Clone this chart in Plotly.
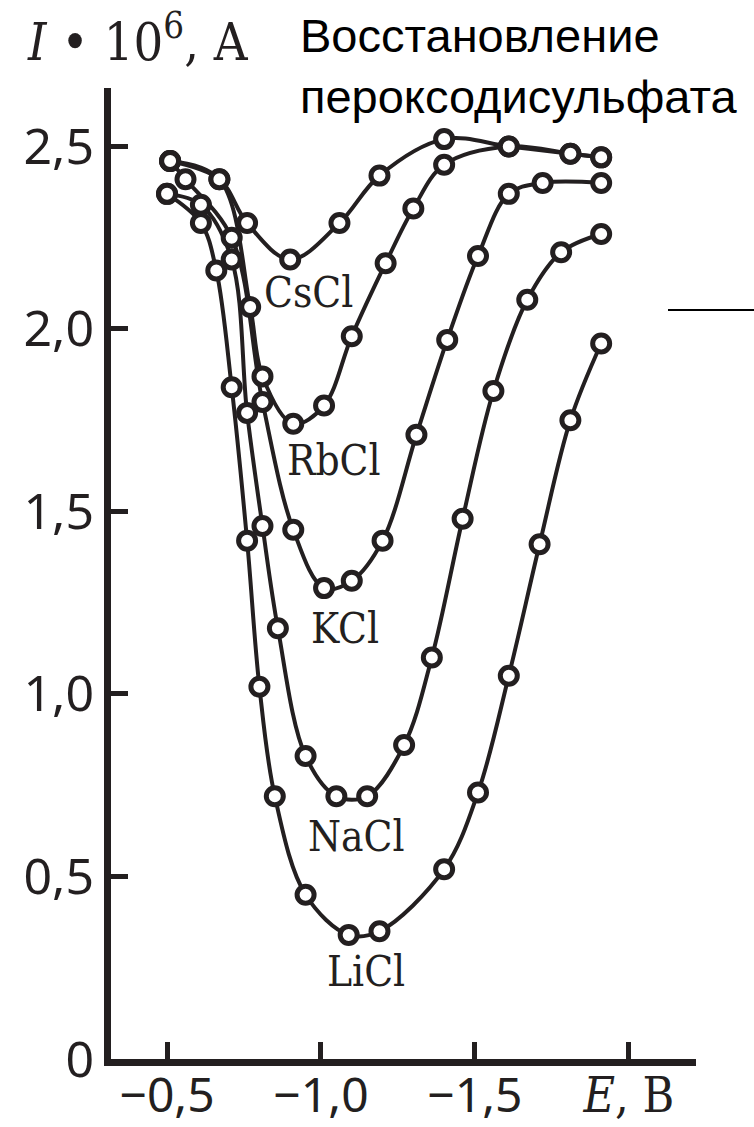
import plotly.graph_objects as go

# Потенциал E (В) и ток I·10^6 (А) для каждого фонового электролита
cs_e = [-0.51, -0.67, -0.76, -0.90, -1.06, -1.19, -1.40, -1.61, -1.81, -1.91]
cs_i = [2.46, 2.41, 2.29, 2.19, 2.29, 2.42, 2.52, 2.50, 2.48, 2.47]

rb_e = [-0.51, -0.67, -0.77, -0.81, -0.91, -1.01, -1.10, -1.21, -1.30, -1.40, -1.61, -1.81, -1.91]
rb_i = [2.46, 2.41, 2.06, 1.87, 1.74, 1.79, 1.98, 2.18, 2.33, 2.45, 2.50, 2.48, 2.47]

k_e = [-0.51, -0.56, -0.71, -0.81, -0.91, -1.01, -1.10, -1.20, -1.31, -1.41, -1.51, -1.61, -1.72, -1.91]
k_i = [2.46, 2.41, 2.25, 1.80, 1.45, 1.29, 1.31, 1.42, 1.71, 1.97, 2.20, 2.37, 2.40, 2.40]

na_e = [-0.50, -0.61, -0.71, -0.76, -0.81, -0.86, -0.95, -1.05, -1.15, -1.27, -1.36, -1.46, -1.56, -1.67, -1.78, -1.91]
na_i = [2.37, 2.34, 2.19, 1.77, 1.46, 1.18, 0.83, 0.72, 0.72, 0.86, 1.10, 1.48, 1.83, 2.08, 2.21, 2.26]

li_e = [-0.50, -0.61, -0.66, -0.71, -0.76, -0.80, -0.85, -0.95, -1.09, -1.19, -1.40, -1.51, -1.61, -1.71, -1.81, -1.91]
li_i = [2.37, 2.29, 2.16, 1.84, 1.42, 1.02, 0.72, 0.45, 0.34, 0.35, 0.52, 0.73, 1.05, 1.41, 1.75, 1.96]

series = [
    ("CsCl", cs_e, cs_i, -0.961, 2.10),
    ("RbCl", rb_e, rb_i, -1.042, 1.64),
    ("KCl", k_e, k_i, -1.078, 1.18),
    ("NaCl", na_e, na_i, -1.114, 0.61),
    ("LiCl", li_e, li_i, -1.146, 0.24),
]

INK = "#231f20"
SERIF = "DejaVu Serif Condensed, DejaVu Serif, serif"

x_tick_vals = [-0.5, -1.0, -1.5, -2.0]
x_tick_text = [
    "−0,5", "−1,0", "−1,5",
    "<span style=\"font-family:'DejaVu Serif Condensed','DejaVu Serif',serif\"><i>E</i>, B</span>",
]
y_tick_vals = [0, 0.5, 1.0, 1.5, 2.0, 2.5]
y_tick_text = ["0", "0,5", "1,0", "1,5", "2,0", "2,5"]

fig = go.Figure()

# сначала все кривые, затем маркеры поверх них
for name, e, i, _, _ in series:
    fig.add_trace(go.Scatter(
        x=e, y=i, mode="lines", name=name,
        line=dict(color=INK, width=4, shape="spline", smoothing=1.0),
        hoverinfo="skip", showlegend=False,
    ))
for name, e, i, _, _ in series:
    fig.add_trace(go.Scatter(
        x=e, y=i, mode="markers", name=name,
        marker=dict(symbol="circle", size=17, color="white",
                    line=dict(color=INK, width=5)),
        showlegend=False,
    ))

annotations = []
for name, _, _, lx, ly in series:
    annotations.append(dict(
        x=lx, y=ly, xref="x", yref="y", text=name, showarrow=False,
        font=dict(family=SERIF, size=42, color=INK),
    ))

# подпись оси тока
annotations.append(dict(
    x=-0.147, y=1.0883, xref="paper", yref="paper", xanchor="left", yanchor="top",
    text="<i>I</i> • 10<sup>6</sup>, A", showarrow=False,
    font=dict(family=SERIF, size=52, color=INK),
))
# заголовок
annotations.append(dict(
    x=0.32, y=1.083, xref="paper", yref="paper", xanchor="left", yanchor="top",
    align="left", text="Восстановление<br>пероксодисульфата", showarrow=False,
    font=dict(family="Liberation Sans, Arial, sans-serif", size=47, color="black"),
))

fig.update_layout(
    width=754, height=1127, autosize=False,
    margin=dict(l=111, r=58, t=88, b=68),
    paper_bgcolor="white", plot_bgcolor="white",
    annotations=annotations,
    shapes=[dict(type="line", xref="paper", yref="paper",
                 x0=(668 - 111) / 585, x1=(754 - 111) / 585,
                 y0=(1059 - 310) / 971, y1=(1059 - 310) / 971,
                 line=dict(color="black", width=2))],
)

fig.update_xaxes(
    range=[-0.318, -2.218], tickvals=x_tick_vals, ticktext=x_tick_text,
    ticks="inside", ticklen=17, tickwidth=5, tickcolor=INK,
    showline=True, linewidth=7, linecolor=INK,
    showgrid=False, zeroline=False, automargin=False,
    ticklabelstandoff=-12,
    tickfont=dict(family="Noto Sans", size=48, color=INK),
)
fig.update_yaxes(
    range=[0, 2.66], tickvals=y_tick_vals, ticktext=y_tick_text,
    ticks="inside", ticklen=17, tickwidth=5, tickcolor=INK,
    showline=True, linewidth=7, linecolor=INK,
    showgrid=False, zeroline=False, automargin=False,
    tickfont=dict(family="Noto Sans", size=50, color=INK),
)

fig.write_html("out.html")
